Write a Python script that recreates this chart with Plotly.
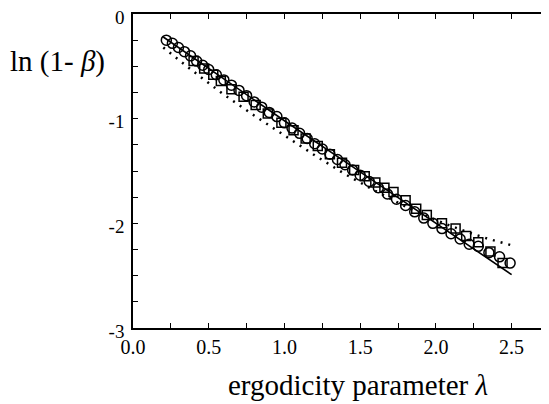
import plotly.graph_objects as go

# fitted curve (solid) and approximation (dotted)
x_line = [0.2, 0.6, 1.0, 1.4, 1.8, 2.2, 2.5]
y_line = [-0.22, -0.62, -1.02, -1.41, -1.80, -2.19, -2.49]

x_dot = [0.2, 0.4, 0.6, 0.8, 1.0, 1.2, 1.4, 1.6, 1.8, 2.0, 2.2, 2.35, 2.5]
y_dot = [-0.32, -0.55, -0.77, -0.97, -1.16, -1.35, -1.53, -1.69, -1.84, -1.97, -2.08, -2.15, -2.21]

# simulation points
x_circ = [0.22, 0.26, 0.30, 0.34, 0.38, 0.42, 0.46, 0.50, 0.55, 0.60, 0.65, 0.70, 0.75,
          0.80, 0.85, 0.90, 0.95, 1.00, 1.05, 1.10, 1.15, 1.20, 1.25, 1.30, 1.35, 1.40,
          1.45, 1.50, 1.56, 1.62, 1.68, 1.74, 1.80, 1.86, 1.92, 1.98, 2.04, 2.10, 2.16,
          2.22, 2.28, 2.35, 2.42, 2.49]
y_circ = [-0.25, -0.28, -0.32, -0.36, -0.40, -0.45, -0.49, -0.53, -0.58, -0.63, -0.68, -0.73, -0.78,
          -0.84, -0.89, -0.94, -0.98, -1.04, -1.09, -1.14, -1.19, -1.24, -1.29, -1.34, -1.39, -1.44,
          -1.49, -1.54, -1.60, -1.66, -1.72, -1.77, -1.83, -1.89, -1.95, -2.00, -2.05, -2.10, -2.15,
          -2.20, -2.22, -2.28, -2.32, -2.38]

x_sq = [0.40, 0.47, 0.53, 0.58, 0.65, 0.73, 0.81, 0.89, 0.98, 1.06, 1.14, 1.22, 1.30, 1.38,
        1.46, 1.53, 1.60, 1.66, 1.72, 1.80, 1.87, 1.94, 2.04, 2.13, 2.20, 2.28, 2.36, 2.44]
y_sq = [-0.45, -0.52, -0.58, -0.64, -0.72, -0.79, -0.87, -0.95, -1.04, -1.11, -1.19, -1.26, -1.34, -1.42,
        -1.49, -1.55, -1.61, -1.66, -1.70, -1.78, -1.86, -1.92, -2.00, -2.05, -2.12, -2.18, -2.27, -2.38]

x_ticks = [0.0, 0.5, 1.0, 1.5, 2.0, 2.5]
x_labels = ["0.0", "0.5", "1.0", "1.5", "2.0", "2.5"]
y_ticks = [0, -1, -2, -3]
y_labels = ["0", "-1", "-2", "-3"]

serif = "Liberation Serif"

fig = go.Figure()
fig.add_trace(go.Scatter(x=x_dot, y=y_dot, mode="lines",
                         line=dict(color="black", width=2.5, dash="2px,6px")))
fig.add_trace(go.Scatter(x=x_line, y=y_line, mode="lines",
                         line=dict(color="black", width=1.6)))
fig.add_trace(go.Scatter(x=x_sq, y=y_sq, mode="markers",
                         marker=dict(symbol="square-open", size=9, color="black",
                                     line=dict(width=1.5))))
fig.add_trace(go.Scatter(x=x_circ, y=y_circ, mode="markers",
                         marker=dict(symbol="circle-open", size=10, color="black",
                                     line=dict(width=1.5))))
# invisible trace just to carry the right-hand tick marks
fig.add_trace(go.Scatter(x=[0], y=[0], yaxis="y2", mode="markers",
                         marker=dict(opacity=0), hoverinfo="skip"))

# page body has an 8px margin, so the figure is shifted by 8px
fig.update_layout(
    width=549, height=396,
    margin=dict(l=125, r=6, t=6, b=76, autoexpand=False),
    paper_bgcolor="white", plot_bgcolor="white",
    showlegend=False,
    font=dict(family=serif, color="black", size=20),
    xaxis=dict(range=[0, 2.76], tickvals=x_ticks, ticktext=x_labels, automargin=False,
               ticks="inside", ticklen=5, tickwidth=1.2, tickcolor="black",
               minor=dict(dtick=0.25, tick0=0, ticks="inside", ticklen=5, tickcolor="black"),
               showline=True, linecolor="black", linewidth=1.5, mirror="ticks",
               showgrid=False, zeroline=False, ticklabelstandoff=0,
               ticklabeloverflow="allow"),
    yaxis=dict(range=[-3, 0], tickvals=y_ticks, ticktext=y_labels, automargin=False,
               ticks="inside", ticklen=5, tickwidth=1.2, tickcolor="black",
               minor=dict(dtick=0.25, tick0=0, ticks="inside", ticklen=5, tickcolor="black"),
               showline=True, linecolor="black", linewidth=1.5, mirror=False,
               showgrid=False, zeroline=False, ticklabelstandoff=3, ticklabelshift=3,
               tickfont=dict(size=19), ticklabeloverflow="allow"),
    yaxis2=dict(range=[-3, 0], overlaying="y", side="right", showline=False, automargin=False,
                showticklabels=False, tickvals=[-3 + 0.25 * i for i in range(13)],
                ticks="inside", ticklen=5, tickwidth=1.2, tickcolor="black",
                showgrid=False, zeroline=False),
    annotations=[
        dict(text="ln (1- <i>β</i>)", xref="paper", yref="paper", x=-0.18, y=0.85,
             xanchor="center", yanchor="middle",
             showarrow=False, font=dict(family=serif, size=29, color="black")),
        dict(text="ergodicity parameter <i>λ</i>", xref="paper", yref="paper", x=0.538, y=-0.183,
             xanchor="center", yanchor="middle",
             showarrow=False, font=dict(family=serif, size=29, color="black")),
    ],
)

fig.write_html("out.html")
